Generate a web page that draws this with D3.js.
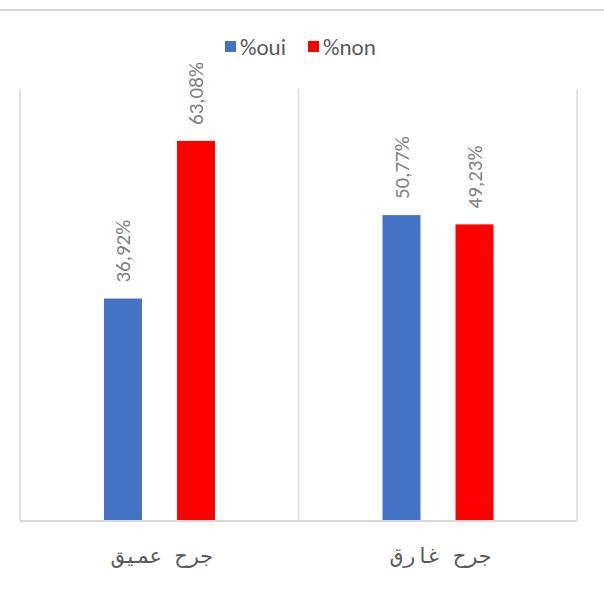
<!DOCTYPE html>
<html>
<head>
<meta charset="utf-8">
<script src="https://cdn.jsdelivr.net/npm/d3@7"></script>
<style>
  body { margin: 0; background: #fff; }
  text { font-family: Calibri, Carlito, "Open Sans", sans-serif; }
</style>
</head>
<body>
<div id="canvas"></div>
<script>
"use strict"

let svgWidth = 604;
let svgHeight = 590;

/* Data */
let categories = ["جرح عميق", "جرح غارق"];
let seriesNames = ["%oui", "%non"];
let ouiValues = [36.92, 50.77];
let nonValues = [63.08, 49.23];
let valueLabels = [["36,92%", "50,77%"], ["63,08%", "49,23%"]];
let seriesColors = ["#4472C4", "#FF0000"];

/* Plot area */
let plotLeft = 20
let plotRight = 577
let plotTop = 89
let plotBottom = 521

let svg = d3.select("#canvas")
    .append("svg")
    .attr("width", svgWidth)
    .attr("height", svgHeight);

/* top border line */
svg.append("rect")
    .attr("x", 0)
    .attr("y", 9)
    .attr("width", svgWidth)
    .attr("height", 2)
    .attr("fill", "#d9d9d9");

let xScale = d3.scaleBand()
    .domain(categories)
    .range([plotLeft, plotRight]);

/* bars inside one category */
let xInner = d3.scaleBand()
    .domain(seriesNames)
    .range([84, 195])
    .paddingInner(0.48);

let yScale = d3.scaleLinear()
    .domain([0, 71.7])
    .range([plotBottom, plotTop]);

/* category separators */
let sepX = [plotLeft, plotLeft + xScale.bandwidth(), plotRight];
svg.selectAll(".sep")
    .data(sepX)
    .join("line")
    .attr("x1", d => d)
    .attr("x2", d => d)
    .attr("y1", plotTop)
    .attr("y2", plotBottom)
    .attr("stroke", "#d9d9d9")
    .attr("stroke-width", 1.5);

let rows = [];
categories.forEach(function (c, i) {
    rows.push({ cat: c, series: seriesNames[0], value: ouiValues[i], label: valueLabels[0][i], color: seriesColors[0] });
    rows.push({ cat: c, series: seriesNames[1], value: nonValues[i], label: valueLabels[1][i], color: seriesColors[1] });
});

svg.selectAll(".bar")
    .data(rows)
    .join("rect")
    .attr("x", d => xScale(d.cat) + xInner(d.series))
    .attr("width", xInner.bandwidth())
    .attr("y", d => yScale(d.value))
    .attr("height", d => yScale(0) - yScale(d.value))
    .attr("fill", d => d.color);

/* value labels, rotated */
svg.selectAll(".vlabel")
    .data(rows)
    .join("text")
    .attr("transform", function (d) {
        let x = xScale(d.cat) + xInner(d.series) + xInner.bandwidth() / 2;
        let y = yScale(d.value) - 16;
        return "translate(" + x + "," + y + ") rotate(-90)";
    })
    .attr("dy", "0.35em")
    .style("text-anchor", "start")
    .style("font-size", "21px")
    .attr("fill", "#808080")
    .text(d => d.label);

/* baseline */
svg.append("line")
    .attr("x1", plotLeft)
    .attr("x2", plotRight)
    .attr("y1", plotBottom)
    .attr("y2", plotBottom)
    .attr("stroke", "#d9d9d9")
    .attr("stroke-width", 2);

/* category labels */
svg.selectAll(".clabel")
    .data(categories)
    .join("text")
    .attr("x", d => xScale(d) + xScale.bandwidth() / 2 + 3)
    .attr("y", 563)
    .style("text-anchor", "middle")
    .style("font-family", "'DejaVu Sans Mono', monospace")
    .style("font-size", "21px")
    .attr("fill", "#595959")
    .text(d => d);

/* legend */
let legendX = [225, 308];
seriesNames.forEach(function (s, i) {
    svg.append("rect")
        .attr("x", legendX[i])
        .attr("y", 41)
        .attr("width", 11)
        .attr("height", 11)
        .attr("fill", seriesColors[i]);
    svg.append("text")
        .attr("x", legendX[i] + 15)
        .attr("y", 47)
        .attr("dy", "0.35em")
        .style("font-size", "23px")
        .attr("fill", "#595959")
        .text(s);
});
</script>
</body>
</html>
